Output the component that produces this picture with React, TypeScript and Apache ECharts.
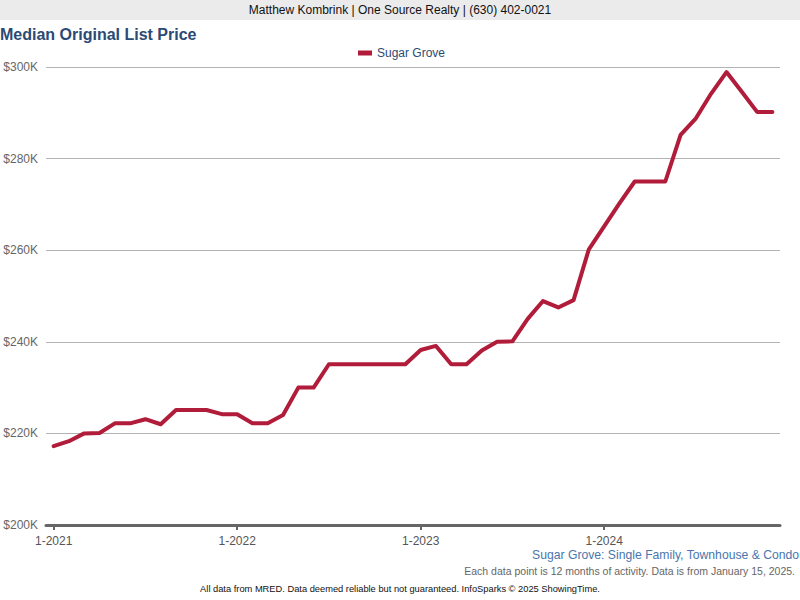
import React, { useEffect, useRef } from "react";
import * as echarts from "echarts";

const years = ["2021", "2022", "2023", "2024"];
const months = [1, 2, 3, 4, 5, 6, 7, 8, 9, 10, 11, 12];
const categories: string[] = [];
years.forEach((y) => months.forEach((m) => categories.push(`${m}-${y}`)));

const seriesName = "Sugar Grove";
const values = [
  217200, 218300, 220000, 220100, 222200, 222200, 223100, 222000, 225100, 225100, 225100, 224200,
  224200, 222200, 222200, 224000, 230000, 230000, 235100, 235100, 235100, 235100, 235100, 235100,
  238200, 239100, 235100, 235100, 238100, 240000, 240100, 245000, 248900, 247500, 249100, 260200,
  265200, 270200, 275000, 275000, 275000, 285200, 288800, 294200, 298900, 294600, 290200, 290200,
];

const yMin = 200000;
const yMax = 300000;
const yStep = 20000;

const headerText = "Matthew Kombrink | One Source Realty | (630) 402-0021";
const titleText = "Median Original List Price";
const subtitleText = "Sugar Grove: Single Family, Townhouse & Condo";
const noteText = "Each data point is 12 months of activity. Data is from January 15, 2025.";
const footerText = "All data from MRED. Data deemed reliable but not guaranteed. InfoSparks © 2025 ShowingTime.";

const FONT = "'Liberation Sans', Arial, sans-serif";

export default function App() {
  const ref = useRef<HTMLDivElement>(null);
  useEffect(() => {
    if (!ref.current) return;
    const chart = echarts.init(ref.current, undefined, { renderer: "svg" });
    chart.setOption({
      animation: false,
      backgroundColor: "#ffffff",
      textStyle: { fontFamily: FONT },
      title: {
        text: titleText,
        left: 0,
        top: 26,
        padding: 0,
        textStyle: { fontFamily: FONT, fontSize: 16, fontWeight: "bold", color: "#2b4a74" },
      },
      legend: {
        data: [seriesName],
        left: 358,
        top: 47,
        padding: 0,
        icon: "rect",
        itemWidth: 14,
        itemHeight: 5,
        itemGap: 5,
        textStyle: { fontFamily: FONT, fontSize: 12, color: "#2b4a74", padding: [1, 0, 0, 0] },
      },
      grid: { left: 46, right: 20, top: 67, bottom: 75, containLabel: false },
      xAxis: {
        type: "category",
        data: categories,
        boundaryGap: true,
        axisLine: { show: true, lineStyle: { color: "#666666", width: 3 } },
        axisTick: {
          show: true,
          alignWithLabel: true,
          interval: (i: number) => i % 12 === 0,
          length: 5,
          lineStyle: { color: "#666666", width: 2 },
        },
        axisLabel: {
          interval: (i: number) => i % 12 === 0,
          color: "#555555",
          fontSize: 12,
          fontFamily: FONT,
          margin: 10,
        },
        splitLine: { show: false },
      },
      yAxis: {
        type: "value",
        min: yMin,
        max: yMax,
        interval: yStep,
        axisLine: { show: false },
        axisTick: { show: false },
        axisLabel: {
          formatter: (v: number) => `$${Math.round(v / 1000)}K`,
          color: "#666666",
          fontSize: 12,
          fontFamily: FONT,
          margin: 8,
        },
        splitLine: { show: true, lineStyle: { color: "#b3b3b3", width: 1 } },
      },
      series: [
        {
          name: seriesName,
          type: "line",
          data: values,
          symbol: "none",
          color: "#b01c3a",
          lineStyle: { color: "#b01c3a", width: 4, join: "round", cap: "round" },
        },
      ],
      graphic: [
        {
          type: "rect",
          left: 0,
          top: 0,
          shape: { x: 0, y: 0, width: 800, height: 20 },
          style: { fill: "#ebebeb" },
          silent: true,
        },
        {
          type: "text",
          x: 400,
          y: 10,
          style: {
            text: headerText,
            fill: "#111111",
            font: `12px ${FONT}`,
            textAlign: "center",
            textVerticalAlign: "middle",
          },
        },
        {
          type: "text",
          x: 532,
          y: 555,
          style: {
            text: subtitleText,
            fill: "#4a76ad",
            font: `12.2px ${FONT}`,
            textAlign: "left",
            textVerticalAlign: "middle",
          },
        },
        {
          type: "text",
          x: 795,
          y: 571,
          style: {
            text: noteText,
            fill: "#666666",
            font: `10.5px ${FONT}`,
            textAlign: "right",
            textVerticalAlign: "middle",
          },
        },
        {
          type: "text",
          x: 400,
          y: 589,
          style: {
            text: footerText,
            fill: "#111111",
            font: `9.3px ${FONT}`,
            textAlign: "center",
            textVerticalAlign: "middle",
          },
        },
      ],
    });
    return () => chart.dispose();
  }, []);
  return (
    <div
      ref={ref}
      style={{ position: "fixed", left: 0, top: 0, width: 800, height: 600 }}
    />
  );
}
